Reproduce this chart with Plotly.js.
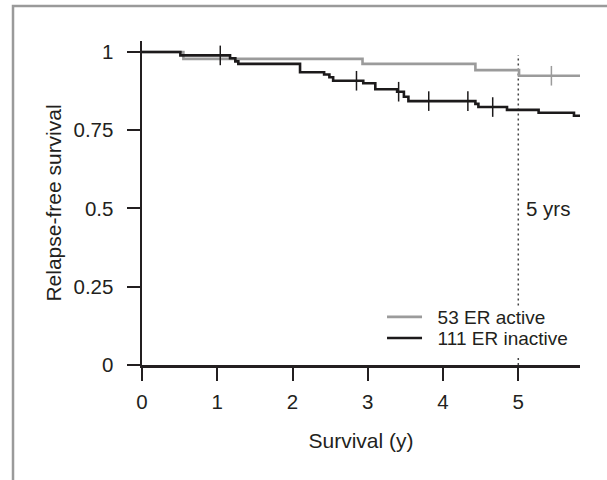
<!DOCTYPE html>
<html>
<head>
<meta charset="utf-8">
<script src="https://cdn.plot.ly/plotly-3.0.1.min.js"></script>
<style>
html,body{margin:0;padding:0;background:#fff;}
#chart{width:607px;height:480px;}
</style>
</head>
<body>
<div id="chart"></div>
<script>
// ER active group (grey)
const activeName = "53 ER active";
const activeTimes = [0, 0.55, 2.93, 4.43, 5.01, 5.82];
const activeSurv  = [1, 0.978, 0.962, 0.942, 0.924, 0.924];
const activeCensorTimes = [5.44];
const activeCensorSurv  = [0.924];

// ER inactive group (black)
const inactiveName = "111 ER inactive";
const inactiveTimes = [0, 0.51, 1.17, 1.24, 1.28, 2.10, 2.42, 2.49, 2.54, 2.94, 3.10, 3.39, 3.48, 3.54, 4.43, 4.47, 4.85, 5.27, 5.74, 5.82];
const inactiveSurv  = [1, 0.989, 0.980, 0.970, 0.962, 0.935, 0.928, 0.919, 0.908, 0.900, 0.881, 0.873, 0.857, 0.843, 0.834, 0.824, 0.815, 0.806, 0.796, 0.796];
const inactiveCensorTimes = [1.04, 2.85, 3.41, 3.81, 4.33, 4.66];
const inactiveCensorSurv  = [0.989, 0.908, 0.873, 0.843, 0.843, 0.824];

// axes
const xTickVals = [0, 1, 2, 3, 4, 5];
const xTickText = ["0", "1", "2", "3", "4", "5"];
const yTickVals = [0, 0.25, 0.5, 0.75, 1];
const yTickText = ["0", "0.25", "0.5", "0.75", "1"];
const refYear = 5;
const refLabel = "5 yrs";
const xTitle = "Survival (y)";
const yTitle = "Relapse-free survival";

const GREY = "#9b9b9b";
const BLACK = "#1c1a1b";
const AX = "#231f20";
const FONT = "Liberation Sans, Arial, Helvetica, sans-serif";
const PAD = "\u00a0\u00a0";

const traces = [
  {x: activeTimes, y: activeSurv, name: PAD + activeName, type: "scatter", mode: "lines",
   legend: "legend", line: {shape: "hv", color: GREY, width: 2.6}},
  {x: inactiveTimes, y: inactiveSurv, name: PAD + inactiveName, type: "scatter", mode: "lines",
   legend: "legend2", line: {shape: "hv", color: BLACK, width: 2.6}},
  {x: activeCensorTimes, y: activeCensorSurv, type: "scatter", mode: "markers", showlegend: false,
   marker: {symbol: "line-ns-open", size: 14, color: GREY, line: {color: GREY, width: 1.5}}},
  {x: inactiveCensorTimes, y: inactiveCensorSurv, type: "scatter", mode: "markers", showlegend: false,
   marker: {symbol: "line-ns-open", size: 14, color: BLACK, line: {color: BLACK, width: 1.5}}}
];

const legendBase = {xanchor: "left", yanchor: "middle", bgcolor: "rgba(0,0,0,0)",
                    font: {size: 19, color: AX}, itemwidth: 35, borderwidth: 0};

const dotLine = {color: "#444", width: 1.5, dash: "2px,3px"};

const layout = {
  width: 607, height: 480,
  margin: {l: 142, r: 27, t: 41, b: 115},
  paper_bgcolor: "#fff", plot_bgcolor: "#fff",
  font: {family: FONT, size: 20, color: AX},
  showlegend: true,
  legend: Object.assign({x: 0.548, y: 0.148}, legendBase),
  legend2: Object.assign({x: 0.548, y: 0.083}, legendBase),
  xaxis: {range: [0, 5.82], tickvals: xTickVals, ticktext: xTickText,
          showgrid: false, zeroline: false, showline: true, linecolor: AX, linewidth: 2.5,
          ticks: "outside", ticklen: 13, tickwidth: 2, tickcolor: AX,
          ticklabelstandoff: 4,
          tickfont: {size: 20.5, color: AX},
          title: {text: xTitle, font: {size: 21, color: AX}, standoff: 21}},
  yaxis: {range: [0, 1.035], tickvals: yTickVals, ticktext: yTickText,
          showgrid: false, zeroline: false, showline: true, linecolor: AX, linewidth: 2.5,
          ticks: "outside", ticklen: 13, tickwidth: 2, tickcolor: AX,
          ticklabelstandoff: 9,
          tickfont: {size: 20.5, color: AX},
          title: {text: yTitle, font: {size: 21, color: AX}, standoff: 6}},
  shapes: [
    {type: "line", xref: "x", yref: "y", x0: refYear, x1: refYear, y0: 0, y1: 0.022,
     line: dotLine, layer: "below"},
    {type: "line", xref: "x", yref: "y", x0: refYear, x1: refYear, y0: 0.19, y1: 0.99,
     line: dotLine, layer: "below"},
    {type: "rect", xref: "paper", yref: "paper", x0: -0.2945, x1: 1.2, y0: -0.5, y1: 1.108,
     line: {color: "#9a9a9a", width: 2.5}, fillcolor: "rgba(0,0,0,0)", layer: "above"}
  ],
  annotations: [
    {x: 5.08, y: 0.5, xref: "x", yref: "y", text: refLabel, showarrow: false,
     xanchor: "left", yanchor: "middle", font: {size: 20.5, color: AX}}
  ]
};

Plotly.newPlot("chart", traces, layout, {staticPlot: true, displayModeBar: false});
</script>
</body>
</html>
